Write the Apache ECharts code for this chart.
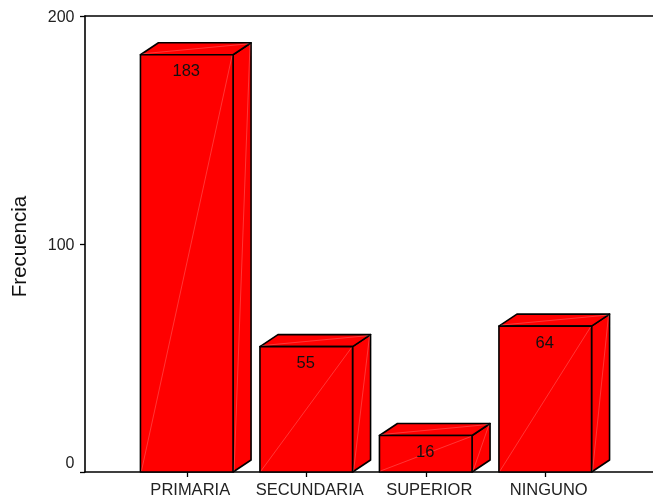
<!DOCTYPE html>
<html>
<head>
<meta charset="utf-8">
<style>html,body{margin:0;padding:0;background:#fff}#c{width:653px;height:500px}</style>
<script src="https://cdn.jsdelivr.net/npm/echarts@6/dist/echarts.min.js"></script>
</head>
<body>
<div id="c"></div>
<script>
// Education level counts, drawn as extruded 3D-style bars
const categories = ['PRIMARIA', 'SECUNDARIA', 'SUPERIOR', 'NINGUNO'];
const frecuencia = [183, 55, 16, 64];
const yTicks = { min: 0, max: 200, interval: 100 };

const FONT = '"Liberation Sans", Arial, sans-serif';
const RED = '#ff0000';
const DEPTH_X = 18, DEPTH_Y = 12, BAR_FILL = 0.775;
const EDGE = { fill: RED, stroke: '#000', lineWidth: 1.6, lineJoin: 'round' };
const SHEEN = { stroke: 'rgba(255,255,255,0.36)', lineWidth: 0.6, fill: null };

function poly(points, style) {
  return { type: 'polygon', shape: { points }, style };
}
function seg(a, b) {
  return { type: 'line', shape: { x1: a[0], y1: a[1], x2: b[0], y2: b[1] }, style: SHEEN };
}

function renderBox(params, api) {
  const value = api.value(1);
  const top = api.coord([api.value(0), value]);
  const base = api.coord([api.value(0), 0]);
  const w = api.size([1, 0])[0] * BAR_FILL;
  const l = top[0] - w / 2, r = top[0] + w / 2;
  const t = top[1], b = base[1];
  const dx = DEPTH_X, dy = DEPTH_Y;
  return {
    type: 'group',
    children: [
      poly([[r, b], [r + dx, b - dy], [r + dx, t - dy], [r, t]], EDGE),
      poly([[l, t], [l + dx, t - dy], [r + dx, t - dy], [r, t]], EDGE),
      poly([[l, b], [r, b], [r, t], [l, t]], EDGE),
      seg([l + 1, b - 1], [r - 1, t + 1]),
      seg([r + 1, b - 1], [r + dx - 1, t - dy + 1]),
      seg([l + 2, t - 1], [r + dx - 2, t - dy + 1]),
      {
        type: 'text',
        style: {
          text: String(value), x: top[0] - 0.5, y: t + 17,
          align: 'center', verticalAlign: 'middle',
          font: '16.5px ' + FONT, fill: '#111'
        }
      }
    ]
  };
}

const frame = { left: 85, right: 0, top: 16, bottom: 28 };
const bars = { left: 127, width: 478, top: 16, bottom: 28 };
const line = { lineStyle: { color: '#000', width: 1.6 } };

echarts.init(document.getElementById('c'), null, { renderer: 'canvas' }).setOption({
  animation: false,
  backgroundColor: '#fff',
  grid: [frame, bars],
  xAxis: [
    { gridIndex: 0, type: 'value', position: 'bottom', min: 0, max: 1, axisLine: { show: true, onZero: false, ...line }, axisTick: { show: false }, axisLabel: { show: false }, splitLine: { show: false } },
    { gridIndex: 1, type: 'category', data: categories, position: 'bottom',
      axisLine: { show: false },
      axisTick: { show: true, alignWithLabel: true, length: 5, lineStyle: { color: '#000', width: 1.3 } },
      axisLabel: { margin: 10, color: '#222', fontFamily: FONT, fontSize: 16.5, interval: 0, padding: [0, 0, 0, 7] } },
    { gridIndex: 0, type: 'value', position: 'top', min: 0, max: 1, axisLine: { show: true, onZero: false, ...line }, axisTick: { show: false }, axisLabel: { show: false }, splitLine: { show: false } }
  ],
  yAxis: [
    { gridIndex: 0, type: 'value', ...yTicks,
      name: 'Frecuencia', nameLocation: 'middle', nameGap: 54, nameRotate: 90,
      nameTextStyle: { color: '#111', fontFamily: FONT, fontSize: 20.5, padding: [0, 5, 0, 0] },
      axisLine: { show: true, ...line },
      axisTick: { show: true, length: 5, lineStyle: { color: '#000', width: 1.3 } },
      axisLabel: { margin: 10.5, verticalAlignMinLabel: 'bottom',
        formatter: v => `{t|${v}}`,
        rich: { t: { color: '#222', fontFamily: FONT, fontSize: 16, padding: [4, 0, 0, 0] } } },
      splitLine: { show: false } },
    { gridIndex: 1, type: 'value', ...yTicks, show: false, splitLine: { show: false } }
  ],
  series: [{
    type: 'custom',
    xAxisIndex: 1,
    yAxisIndex: 1,
    clip: false,
    data: categories.map((c, i) => [i, frecuencia[i]]),
    encode: { x: 0, y: 1 },
    renderItem: renderBox
  }]
});
</script>
</body>
</html>
